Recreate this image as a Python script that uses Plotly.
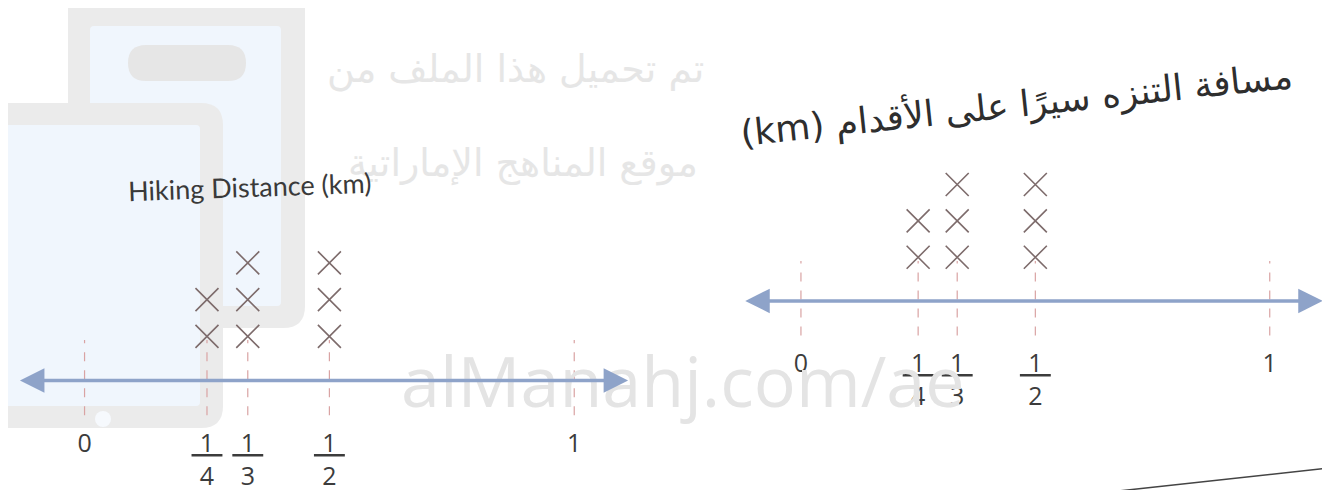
'''
Two line plots (X marks) of hiking distances in km, English and Arabic versions.
'''
import plotly.graph_objects as go

W, H = 1330, 490

# data
DISTANCES = [1/4, 1/3, 1/2]
HIKERS = [2, 3, 3]
TICK_VALS = [0, 1/4, 1/3, 1/2, 1]
TICK_TEXT = ['0',
             '<u>\u2009\u20091\u2009\u2009</u><br>4',
             '<u>\u2009\u20091\u2009\u2009</u><br>3',
             '<u>\u2009\u20091\u2009\u2009</u><br>2',
             '1']
TITLE_EN = 'Hiking Distance (km)'
# "(km)" first so it lands on the left end, as in the picture
TITLE_AR = '(km) مسافة التنزه سيرًا على الأقدام'

LINE_Y = -0.2
X_MARK = '#7d6b6b'
LINE_BLUE = '#8ea3c9'
TICK_PINK = '#d9a3a3'
WM = '#e6e6e6'


def px(x, y):
	return '%.5f,%.5f' % (x / W, 1 - y / H)


def rrect(x0, y0, x1, y1, r):
	return ('M %s L %s Q %s %s L %s Q %s %s L %s Q %s %s L %s Q %s %s Z' % (
		px(x0 + r, y0), px(x1 - r, y0), px(x1, y0), px(x1, y0 + r),
		px(x1, y1 - r), px(x1, y1), px(x1 - r, y1),
		px(x0 + r, y1), px(x0, y1), px(x0, y1 - r),
		px(x0, y0 + r), px(x0, y0), px(x0 + r, y0)))


def label(fig, text, x, y, size, family, color, angle=0):
	fig.add_annotation(text=text, x=x / W, y=1 - y / H,
		xref='paper', yref='paper', xanchor='center', yanchor='middle',
		showarrow=False, textangle=angle,
		font=dict(family=family, size=size, color=color))


def main():
	xs, ys = [], []
	for d, n in zip(DISTANCES, HIKERS):
		for k in range(n):
			xs.append(d)
			ys.append(k + 1)

	fig = go.Figure()

	# watermark logo
	logo = [
		(rrect(60, -30, 297, 320, 22), '#ebebeb'),
		(rrect(82, 18, 273, 298, 4), '#f0f6fd'),
		(rrect(120, 37, 238, 73, 18), '#e6e6e6'),
		(rrect(-30, 95, 215, 420, 22), '#ebebeb'),
		(rrect(-30, 117, 192, 398, 4), '#f0f6fd'),
	]
	for path, col in logo:
		fig.add_shape(type='path', path=path, xref='paper', yref='paper',
			fillcolor=col, line=dict(width=0), layer='below')
	fig.add_shape(type='circle', xref='paper', yref='paper',
		x0=87 / W, x1=103 / W, y0=1 - 419 / H, y1=1 - 403 / H,
		fillcolor='#f6f9fd', line=dict(width=0), layer='below')

	for ax in ['', '2']:
		fig.add_trace(go.Scatter(
			x=xs, y=ys,
			xaxis='x' + ax, yaxis='y' + ax,
			mode='markers',
			marker=dict(symbol='x-thin', size=23, line=dict(width=1.6, color=X_MARK)),
			hoverinfo='skip',
			showlegend=False))

		for v in TICK_VALS:
			fig.add_shape(type='line', xref='x' + ax, yref='y' + ax,
				x0=v, x1=v, y0=-1.15, y1=0.9,
				line=dict(color=TICK_PINK, width=1.2, dash='dash'))

	# watermark text
	label(fig, 'تم تحميل هذا الملف من', 507, 62, 38, 'DejaVu Sans', WM)
	label(fig, 'موقع المناهج الإماراتية', 515, 155, 38, 'DejaVu Sans', WM)
	label(fig, 'alManahj.com/ae', 675, 372, 70, 'Open Sans', '#e4e4e4')

	# number lines with arrows at both ends
	for ax, lo, hi in [('', -0.135, 1.11), ('2', -0.122, 1.113)]:
		fig.add_annotation(x=hi, y=LINE_Y, ax=lo, ay=LINE_Y,
			xref='x' + ax, yref='y' + ax, axref='x' + ax, ayref='y' + ax,
			text='', showarrow=True, arrowside='end+start',
			arrowhead=2, arrowsize=1.4, arrowwidth=3.5, arrowcolor=LINE_BLUE)

	label(fig, TITLE_EN, 241, 178, 27, 'Lato', '#3a3a3a', -2)
	label(fig, TITLE_AR, 1008, 96, 36, 'DejaVu Sans', '#2e2e2e', -6)

	fig.add_shape(type='line', xref='paper', yref='paper',
		x0=1092 / W, y0=1 - 485 / H, x1=1, y1=1 - 459 / H,
		line=dict(color='#444444', width=1.5))

	xcommon = dict(range=[-0.14, 1.12], tickvals=TICK_VALS, ticktext=TICK_TEXT,
		showgrid=False, zeroline=False, showline=False, ticks='',
		tickfont=dict(family='Open Sans', size=25, color='#3c3c3c'), fixedrange=True)
	ycommon = dict(range=[-1.44, 3.95], visible=False, fixedrange=True)

	fig.update_layout(
		width=W, height=H,
		margin=dict(l=0, r=0, t=0, b=0),
		paper_bgcolor='white', plot_bgcolor='rgba(0,0,0,0)',
		xaxis=dict(xcommon, domain=[8 / W, 625 / W], anchor='y'),
		yaxis=dict(ycommon, domain=[72 / H, 270 / H], anchor='x'),
		xaxis2=dict(xcommon, range=[-0.13, 1.12], domain=[732 / W, 1318 / W], anchor='y2'),
		yaxis2=dict(ycommon, domain=[152 / H, 348 / H], anchor='x2'),
	)
	fig.write_html('out.html')


if __name__ == '__main__':
	main()
